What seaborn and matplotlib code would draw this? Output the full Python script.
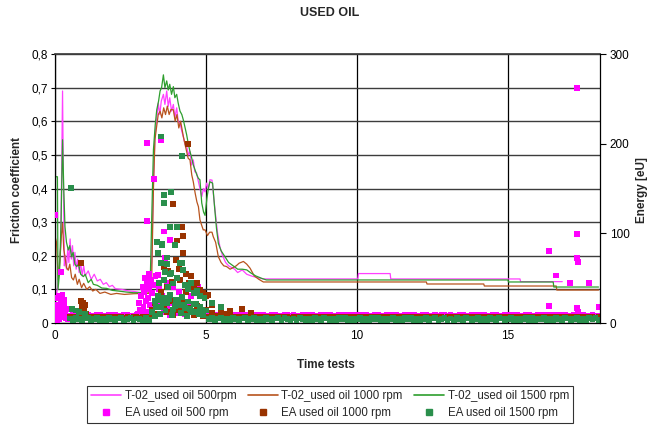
import numpy as np
import pandas as pd
import matplotlib
matplotlib.use("Agg")
import matplotlib.pyplot as plt
import seaborn as sns
from matplotlib.lines import Line2D
from matplotlib.ticker import FuncFormatter, MultipleLocator

# ---------------- data ----------------
line_labels = ["T-02_used oil 500rpm", "T-02_used oil 1000 rpm", "T-02_used oil 1500 rpm"]
dot_labels = ["EA used oil 500 rpm", "EA used oil 1000 rpm", "EA used oil 1500 rpm"]

# friction coefficient, 500 rpm
t_500 = [0.00, 0.05, 0.10, 0.15, 0.19, 0.22, 0.25, 0.28, 0.31, 0.34, 0.38, 0.42, 0.46, 0.50, 0.54,
         0.58, 0.62, 0.66, 0.70, 0.75, 0.80, 0.85, 0.90, 0.95, 1.00, 1.10, 1.20, 1.30, 1.40, 1.50,
         1.60, 1.70, 1.80, 1.90, 2.00, 2.20, 2.40, 2.60, 2.80, 3.00, 3.10, 3.20, 3.26, 3.31, 3.36,
         3.42, 3.47, 3.52, 3.59, 3.64, 3.70, 3.75, 3.80, 3.86, 3.92, 3.97, 4.03, 4.08, 4.14, 4.20,
         4.26, 4.31, 4.36, 4.42, 4.47, 4.52, 4.58, 4.63, 4.69, 4.75, 4.80, 4.86, 4.92, 4.97, 5.02,
         5.08, 5.13, 5.20, 5.25, 5.30, 5.38, 5.46, 5.55, 5.65, 5.75, 5.85, 5.95, 6.05, 6.20, 6.35,
         6.50, 6.70, 6.90, 10.03, 10.05, 11.10, 11.12, 15.40, 15.42, 16.80]
f_500 = [0.10, 0.08, 0.12, 0.18, 0.23, 0.45, 0.69, 0.40, 0.17, 0.20, 0.16, 0.22, 0.18, 0.25, 0.19,
         0.23, 0.17, 0.21, 0.16, 0.19, 0.15, 0.18, 0.14, 0.17, 0.14, 0.155, 0.13, 0.145, 0.125, 0.13,
         0.115, 0.12, 0.108, 0.112, 0.102, 0.10, 0.096, 0.094, 0.091, 0.09, 0.095, 0.18, 0.42, 0.555, 0.60,
         0.654, 0.62, 0.66, 0.68, 0.65, 0.69, 0.644, 0.67, 0.63, 0.65, 0.61, 0.64, 0.60, 0.594, 0.57,
         0.55, 0.53, 0.525, 0.50, 0.51, 0.47, 0.485, 0.45, 0.446, 0.42, 0.40, 0.376, 0.40, 0.39, 0.416,
         0.40, 0.426, 0.425, 0.38, 0.336, 0.27, 0.227, 0.20, 0.18, 0.17, 0.165, 0.16, 0.15, 0.158, 0.145,
         0.14, 0.135, 0.131, 0.131, 0.147, 0.147, 0.131, 0.131, 0.123, 0.123]

# friction coefficient, 1000 rpm
t_1000 = [0.00, 0.05, 0.11, 0.16, 0.21, 0.25, 0.29, 0.33, 0.38, 0.44, 0.49, 0.55, 0.61, 0.67, 0.74,
          0.80, 0.88, 0.95, 1.05, 1.15, 1.25, 1.35, 1.49, 1.65, 1.85, 2.04, 2.30, 2.60, 2.90, 3.10,
          3.20, 3.26, 3.31, 3.36, 3.42, 3.48, 3.54, 3.60, 3.66, 3.72, 3.78, 3.84, 3.92, 3.98, 4.04,
          4.10, 4.16, 4.25, 4.31, 4.36, 4.41, 4.47, 4.53, 4.58, 4.64, 4.70, 4.75, 4.80, 4.86, 4.91,
          4.97, 5.05, 5.12, 5.20, 5.24, 5.32, 5.41, 5.50, 5.59, 5.68, 5.80, 5.90, 6.00, 6.10, 6.24,
          6.35, 6.46, 6.60, 6.75, 6.90, 12.30, 12.32, 14.20, 14.22, 16.60, 16.62, 18.00]
f_1000 = [0.257, 0.24, 0.128, 0.18, 0.26, 0.296, 0.22, 0.197, 0.165, 0.157, 0.175, 0.135, 0.128, 0.145, 0.115,
          0.13, 0.105, 0.118, 0.1, 0.108, 0.095, 0.1, 0.088, 0.092, 0.085, 0.088, 0.085, 0.087, 0.088, 0.088,
          0.12, 0.40, 0.545, 0.58, 0.62, 0.63, 0.61, 0.64, 0.62, 0.645, 0.62, 0.635, 0.634, 0.60, 0.62,
          0.58, 0.60, 0.555, 0.53, 0.51, 0.49, 0.485, 0.44, 0.42, 0.387, 0.36, 0.346, 0.307, 0.29, 0.277,
          0.277, 0.26, 0.27, 0.27, 0.257, 0.24, 0.197, 0.18, 0.17, 0.168, 0.16, 0.165, 0.17, 0.178, 0.183,
          0.175, 0.163, 0.14, 0.13, 0.122, 0.122, 0.116, 0.116, 0.11, 0.11, 0.098, 0.098]

# friction coefficient, 1500 rpm
t_1500 = [0.00, 0.08, 0.10, 0.15, 0.20, 0.25, 0.29, 0.33, 0.38, 0.44, 0.49, 0.55, 0.60, 0.66, 0.72,
          0.78, 0.85, 0.94, 1.00, 1.10, 1.20, 1.27, 1.40, 1.55, 1.71, 1.90, 2.10, 2.37, 2.60, 2.85,
          3.05, 3.15, 3.20, 3.26, 3.32, 3.37, 3.43, 3.48, 3.53, 3.59, 3.64, 3.70, 3.75, 3.80, 3.86,
          3.92, 3.97, 4.03, 4.08, 4.14, 4.20, 4.25, 4.31, 4.36, 4.41, 4.47, 4.53, 4.58, 4.64, 4.70,
          4.75, 4.80, 4.86, 4.92, 4.97, 5.03, 5.08, 5.13, 5.22, 5.28, 5.35, 5.41, 5.50, 5.63, 5.75,
          5.90, 6.05, 6.20, 6.35, 6.50, 6.65, 6.84, 7.00, 15.00, 15.02, 16.50, 16.52, 18.00]
f_1500 = [0.435, 0.435, 0.10, 0.15, 0.30, 0.545, 0.40, 0.287, 0.24, 0.217, 0.23, 0.197, 0.21, 0.175, 0.168,
          0.175, 0.145, 0.138, 0.145, 0.12, 0.13, 0.115, 0.112, 0.104, 0.103, 0.097, 0.095, 0.092, 0.09, 0.09,
          0.092, 0.11, 0.30, 0.515, 0.59, 0.634, 0.66, 0.69, 0.70, 0.738, 0.70, 0.72, 0.693, 0.71, 0.68,
          0.703, 0.67, 0.68, 0.654, 0.63, 0.62, 0.604, 0.58, 0.56, 0.535, 0.51, 0.49, 0.47, 0.455, 0.44,
          0.43, 0.426, 0.357, 0.33, 0.32, 0.37, 0.40, 0.42, 0.416, 0.35, 0.28, 0.237, 0.215, 0.197, 0.18,
          0.17, 0.16, 0.16, 0.158, 0.148, 0.14, 0.133, 0.128, 0.128, 0.122, 0.122, 0.107, 0.107]

# energy [eU] -- dense low band, sampled every 0.1 from t = 0.5
band_500 = [8, 9, 8, 9, 8, 8, 9, 8, 8, 9, 9, 8, 8, 9, 8, 9, 8, 8, 9, 9,
            8, 8, 9, 8, 9, 8, 9,
            14, 20, 10, 25, 12, 18, 9, 22, 11, 16, 13, 10, 19, 12, 9, 15, 11, 10, 12,
            8, 9, 8, 9, 8, 9, 8, 8, 9, 9, 9, 8, 9, 8, 8, 9, 8, 9, 9, 8,
            8, 9, 9, 8, 8, 9, 9, 8, 9, 8, 8, 9, 8, 9, 9, 8, 8, 9, 9, 8,
            9, 8, 8, 9, 8, 9, 8, 9, 8, 9, 8, 9, 9, 8, 8, 9, 9, 8, 8, 9,
            9, 8, 9, 8, 8, 9, 9, 8, 9, 8, 8, 9, 9, 8, 8, 9, 8, 9, 9, 8,
            9, 8, 8, 9, 9, 8, 8, 9, 8, 9, 8, 9, 8, 8, 9, 9, 8, 8, 9, 8,
            9, 8, 9, 8, 8, 9, 9, 8, 8, 9, 8, 9, 8, 9, 8, 9, 8, 9, 9, 8,
            8, 9, 8, 9, 9, 8, 8, 9, 8, 8]
band_1000 = [7, 6, 7, 6, 7, 7, 7, 6, 7, 7, 6, 7, 6, 7, 7, 6, 7, 7, 6, 7, 6, 7, 7, 6, 7, 7, 6,
             15, 22, 10, 28, 18, 12, 25, 9, 20, 14, 24, 11, 17, 13, 9, 19, 12, 8, 15,
             7, 11, 8, 7, 12, 7, 10, 8, 7, 6, 7, 7, 7, 6, 7, 7, 7, 7, 6, 7,
             7, 7, 6, 7, 7, 7, 7, 6, 7, 7, 7, 6, 7, 7, 7, 7, 6, 7, 7, 7,
             6, 7, 7, 7, 6, 7, 7, 7, 7, 6, 7, 7, 7, 6, 7, 7, 7, 7, 6, 7,
             7, 7, 7, 6, 7, 7, 7, 7, 7, 6, 7, 7, 7, 6, 7, 7, 7, 7, 6, 7,
             7, 7, 6, 7, 7, 7, 7, 7, 6, 7, 7, 6, 7, 7, 7, 7, 6, 7, 7, 7,
             6, 7, 7, 7, 7, 6, 7, 7, 7, 7, 7, 7, 6, 7, 7, 7, 7, 6, 7, 7,
             7, 7, 7, 6, 7, 7, 7, 7, 6, 7]
band_1500 = [5, 3, 6, 4, 3, 5, 6, 3, 4, 6, 3, 5, 3, 6, 4, 3, 5, 6, 3, 4, 6, 3, 5, 4, 3, 6, 3,
             12, 25, 30, 18, 28, 22, 31, 15, 26, 20, 29, 17, 24, 14, 21, 12, 18, 9, 14,
             4, 6, 3, 5, 6, 3, 5, 3, 6, 4, 3, 5, 6, 3, 4, 6, 3, 5, 3, 6,
             4, 3, 5, 6, 3, 6, 4, 3, 5, 3, 6, 4, 3, 5, 3, 6, 4, 3, 6, 5,
             3, 5, 3, 6, 4, 6, 3, 5, 3, 4, 6, 3, 5, 3, 6, 4, 6, 3, 5, 3,
             4, 6, 3, 5, 3, 6, 4, 6, 3, 5, 3, 4, 6, 3, 5, 6, 3, 4, 6, 3,
             5, 3, 6, 4, 3, 6, 5, 3, 4, 6, 3, 5, 3, 6, 4, 3, 6, 5, 3, 4,
             6, 3, 5, 3, 4, 6, 3, 6, 3, 5, 4, 6, 3, 5, 3, 6, 4, 3, 6, 5,
             3, 4, 6, 3, 5, 3, 6, 4, 6, 3]

# energy [eU] -- individual higher points
et_500 = [0.00, 0.00, 0.02, 0.04, 0.06, 0.08, 0.10, 0.12, 0.14, 0.16, 0.19, 0.21, 0.23, 0.25, 0.27,
          0.29, 0.31, 0.33, 0.36, 0.38, 0.41, 0.44,
          2.75, 2.78, 2.82, 2.85, 2.88, 2.90, 2.93, 2.96, 2.98, 3.00, 3.02, 3.04, 3.04, 3.05, 3.08,
          3.10, 3.12, 3.14, 3.17, 3.20, 3.23, 3.26, 3.29, 3.30, 3.33, 3.36, 3.40, 3.45, 3.50, 3.55,
          3.62, 3.65, 3.70, 3.80, 3.90, 4.10, 4.30, 4.50, 4.75,
          16.36, 16.36, 16.60, 17.05, 17.28, 17.30, 17.30, 17.31, 17.30, 17.32, 17.70, 18.00]
ev_500 = [120, 28, 6, 14, 3, 20, 9, 30, 4, 18, 57, 24, 11, 31, 7,
          19, 26, 12, 5, 16, 8, 4,
          10, 22, 15, 30, 8, 40, 18, 35, 50, 25, 12, 114, 201, 45, 28,
          55, 38, 20, 48, 33, 15, 42, 161, 25, 52, 18, 54, 38, 204, 30,
          102, 72, 45, 93, 40, 35, 42, 30, 40,
          80, 19, 53, 45, 99, 262, 72, 68, 17, 12, 45, 18]
et_1000 = [0.83, 0.86, 0.87, 0.88, 0.90, 0.92, 0.95, 0.97, 1.00, 1.03, 1.07,
           3.50, 3.60, 3.70, 3.75, 3.86, 3.92, 4.00, 4.05, 4.06, 4.10, 4.15, 4.20, 4.23, 4.25,
           4.33, 4.35, 4.41, 4.44, 4.50, 4.60, 4.70, 4.80, 4.90, 5.00, 5.08, 5.20, 5.50, 5.80,
           6.20, 6.50]
ev_1000 = [8, 25, 67, 18, 12, 22, 6, 15, 20, 10, 5,
           35, 62, 40, 58, 46, 133, 70, 92, 107, 60, 48, 107, 97, 78,
           55, 35, 200, 45, 52, 40, 45, 37, 34, 30, 31, 20, 12, 14,
           16, 11]
et_1500 = [0.52, 0.55, 0.70, 0.80, 1.00,
           3.37, 3.42, 3.45, 3.50, 3.50, 3.53, 3.55, 3.60, 3.60, 3.60, 3.64, 3.70, 3.72, 3.75, 3.80,
           3.80, 3.83, 3.86, 3.90, 3.96, 4.03, 4.05, 4.14, 4.20, 4.20, 4.23, 4.30, 4.40, 4.50, 4.60,
           4.70, 4.80, 4.95, 5.20, 5.50,
           3.30, 3.35, 3.40, 3.48, 3.58, 3.66, 3.78, 3.88, 3.98, 4.08, 4.18, 4.28, 4.38, 4.48, 4.58,
           4.68, 4.78, 4.88]
ev_1500 = [151, 16, 14, 12, 10,
           90, 78, 45, 67, 208, 88, 87, 143, 134, 48, 57, 73, 66, 40, 55,
           107, 146, 56, 44, 87, 107, 50, 67, 67, 186, 59, 42, 38, 45, 33,
           36, 30, 28, 22, 18,
           8, 18, 26, 10, 22, 14, 27, 9, 19, 24, 11, 20, 8, 16, 12,
           21, 10, 15]

# ---------------- frames ----------------
df_f = pd.concat([
    pd.DataFrame({"t": t_500, "f": f_500, "series": line_labels[0]}),
    pd.DataFrame({"t": t_1000, "f": f_1000, "series": line_labels[1]}),
    pd.DataFrame({"t": t_1500, "f": f_1500, "series": line_labels[2]}),
], ignore_index=True)

def band_frame(vals, label):
    tt = 0.5 + 0.1 * np.arange(len(vals))
    return pd.DataFrame({"t": tt, "E": vals, "series": label})

df_e = pd.concat([
    band_frame(band_500, dot_labels[0]),
    pd.DataFrame({"t": et_500, "E": ev_500, "series": dot_labels[0]}),
    band_frame(band_1000, dot_labels[1]),
    pd.DataFrame({"t": et_1000, "E": ev_1000, "series": dot_labels[1]}),
    band_frame(band_1500, dot_labels[2]),
    pd.DataFrame({"t": et_1500, "E": ev_1500, "series": dot_labels[2]}),
], ignore_index=True)

# ---------------- style ----------------
sns.set_theme(style="white")
plt.rcParams["font.family"] = ["Liberation Sans", "DejaVu Sans"]

line_colors = {line_labels[0]: "#FF40FF", line_labels[1]: "#B8541E", line_labels[2]: "#2E9E2E"}
dot_colors = {dot_labels[0]: "#FF00FF", dot_labels[1]: "#993300", dot_labels[2]: "#2A8F4C"}

fig = plt.figure(figsize=(6.49, 4.29), dpi=100)
ax = fig.add_axes([55 / 649, 1 - 323 / 429, 545 / 649, 269 / 429])

ax.set_axisbelow(True)
sns.lineplot(data=df_f, x="t", y="f", hue="series", hue_order=line_labels,
             palette=line_colors, estimator=None, sort=False, lw=0.9,
             ax=ax, legend=False)

ax.set_xlim(0, 18.05)
ax.set_ylim(0, 0.8)
ax.set_xticks([0, 5, 10, 15])
ax.yaxis.set_major_locator(MultipleLocator(0.1))
ax.yaxis.set_major_formatter(FuncFormatter(
    lambda v, p: "0" if abs(v) < 1e-9 else f"{v:.1f}".replace(".", ",")))
ax.grid(axis="y", color="#3c3c3c", lw=1.0)
ax.grid(axis="x", color="black", lw=0.9)
ax.set_xlabel("")
ax.set_ylabel("")
for s in ["left", "bottom"]:
    ax.spines[s].set_color("black")
    ax.spines[s].set_linewidth(0.9)
ax.spines["top"].set_color("#3c3c3c")
ax.spines["right"].set_visible(False)
ax.tick_params(axis="both", direction="out", length=3, width=0.8, colors="black",
               labelsize=8.5, pad=2)

ax2 = ax.twinx()
sns.scatterplot(data=df_e, x="t", y="E", hue="series", hue_order=dot_labels,
                palette=dot_colors, marker="s", s=18, linewidth=0,
                ax=ax2, legend=False)
ax2.set_ylim(0, 300)
ax2.set_xlim(0, 18.05)
ax2.set_yticks([0, 100, 200, 300])
ax2.set_ylabel("")
ax2.set_xlabel("")
for s in ["left", "top", "bottom"]:
    ax2.spines[s].set_visible(False)
ax2.spines["right"].set_color("black")
ax2.spines["right"].set_linewidth(0.9)
ax2.tick_params(axis="y", direction="out", length=4, width=0.8, colors="black",
                labelsize=8.5, pad=3)
ax2.grid(False)

fig.text(330 / 649, 1 - 13 / 429, "USED OIL", ha="center", va="center",
         fontsize=9, fontweight="bold")
fig.text(17 / 649, 1 - 190 / 429, "Friction coefficient", rotation=90,
         ha="center", va="center", fontsize=8.5, fontweight="bold")
fig.text(642 / 649, 1 - 190 / 429, "Energy [eU]", rotation=90,
         ha="center", va="center", fontsize=8.5, fontweight="bold")
fig.text(326 / 649, 1 - 365 / 429, "Time tests", ha="center", va="center",
         fontsize=8.5, fontweight="bold")

handles, labels = [], []
for ll, dl in zip(line_labels, dot_labels):
    handles.append(Line2D([], [], color=line_colors[ll], lw=1.2))
    labels.append(ll)
    handles.append(Line2D([], [], color=dot_colors[dl], marker="s", ls="none", markersize=4))
    labels.append(dl)
leg = fig.legend(handles, labels, ncol=3, loc="lower center",
                 bbox_to_anchor=(330 / 649, 0.0), fontsize=8.3, frameon=True,
                 fancybox=False, edgecolor="black", handlelength=2.6,
                 columnspacing=1.0, handletextpad=0.3, borderpad=0.35,
                 labelspacing=0.45)
leg.get_frame().set_linewidth(0.8)

fig.savefig("out.png", dpi=100, facecolor="white")
